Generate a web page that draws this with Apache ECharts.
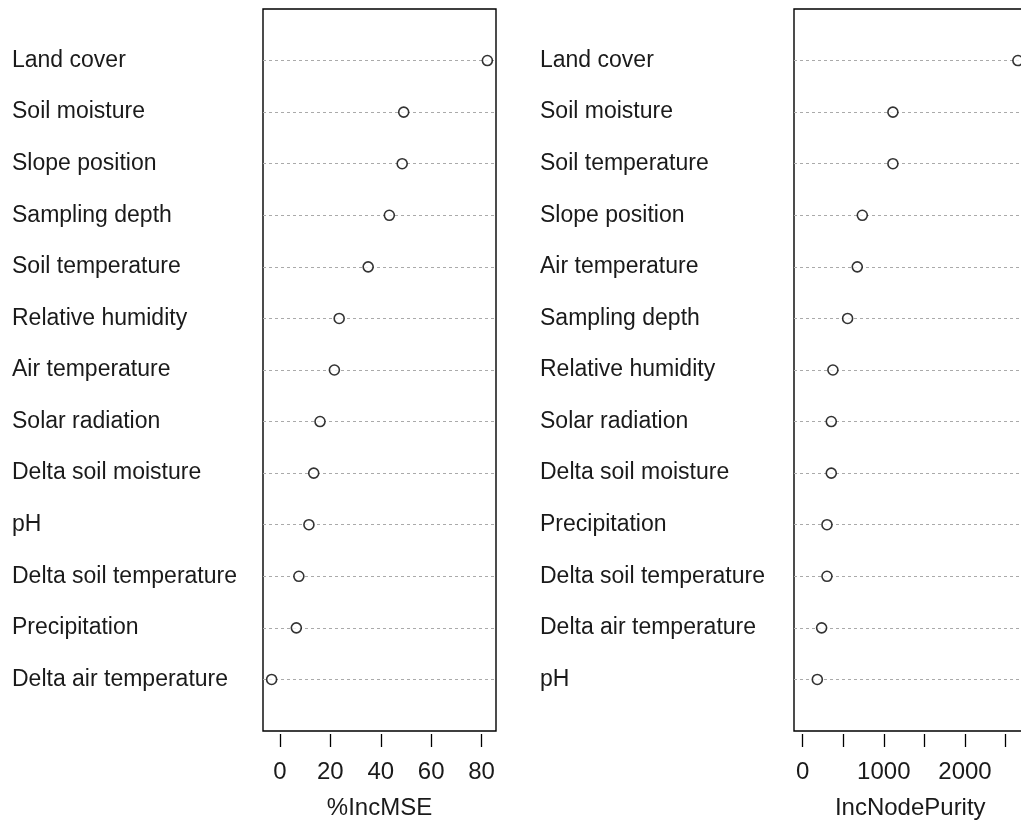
<!DOCTYPE html>
<html>
<head>
<meta charset="utf-8">
<script src="https://cdn.jsdelivr.net/npm/echarts@6/dist/echarts.min.js"></script>
<style>
html,body{margin:0;padding:0;background:#fff;}
#chart{width:1021px;height:821px;}
</style>
</head>
<body>
<div id="chart"></div>
<script>
// Left panel (%IncMSE), listed top to bottom
const leftLabels = ["Land cover","Soil moisture","Slope position","Sampling depth","Soil temperature","Relative humidity","Air temperature","Solar radiation","Delta soil moisture","pH","Delta soil temperature","Precipitation","Delta air temperature"];
const leftValues = [82.3, 49.1, 48.5, 43.4, 35.0, 23.5, 21.6, 15.9, 13.4, 11.5, 7.5, 6.5, -3.3];
const leftTicks = [0, 20, 40, 60, 80];
const leftTickLabels = [0, 20, 40, 60, 80];
const leftName = "%IncMSE";

// Right panel (IncNodePurity), listed top to bottom
const rightLabels = ["Land cover","Soil moisture","Soil temperature","Slope position","Air temperature","Sampling depth","Relative humidity","Solar radiation","Delta soil moisture","Precipitation","Delta soil temperature","Delta air temperature","pH"];
const rightValues = [2651, 1112, 1112, 735, 673, 554, 373, 353, 353, 300, 300, 234, 181];
const rightTicks = [0, 500, 1000, 1500, 2000, 2500];
const rightTickLabels = [0, 1000, 2000];
const rightName = "IncNodePurity";

const FONT = "'Liberation Sans', Arial, sans-serif";
const TXT = "#1a1a1a";

function catData(labels) {
  return [''].concat(labels.slice().reverse()).concat(['']);
}
// R-style range: 4% extension on each side
function rangeOf(vals, forceZero) {
  let lo = Math.min.apply(null, vals), hi = Math.max.apply(null, vals);
  if (forceZero) lo = 0;
  const ext = (hi - lo) * 0.04;
  return [lo - ext, hi + ext];
}

const lr = rangeOf(leftValues, false);
const rr = rangeOf(rightValues, true);

function yAxisFor(gridIndex, labels, margin) {
  return {
    type: 'category', gridIndex: gridIndex, boundaryGap: false,
    data: catData(labels),
    axisLine: {show: false}, axisTick: {show: false},
    axisLabel: {interval: 0, align: 'left', margin: margin, fontSize: 23, fontFamily: FONT, color: TXT, padding: [0,0,3,0]},
    splitLine: {show: true, interval: function (i, v) { return v !== ''; },
      lineStyle: {color: '#aaaaaa', type: [3, 3], width: 1}}
  };
}
function xAxisFor(gridIndex, range, ticks, tickLabels, name) {
  return {
    type: 'value', gridIndex: gridIndex, min: range[0], max: range[1],
    offset: 3,
    name: name, nameLocation: 'middle', nameGap: 62,
    nameTextStyle: {fontSize: 24, fontFamily: FONT, color: TXT},
    axisLine: {show: false},
    axisTick: {show: true, length: 13, customValues: ticks, lineStyle: {color: '#000', width: 1.3}},
    axisLabel: {customValues: tickLabels, fontSize: 24, fontFamily: FONT, color: TXT, margin: 26,
      formatter: function (v) { return String(v); }},
    splitLine: {show: false}
  };
}
function seriesFor(idx, labels, values) {
  return {
    type: 'scatter', xAxisIndex: idx, yAxisIndex: idx, clip: false,
    symbol: 'circle', symbolSize: 10,
    itemStyle: {color: '#fff', borderColor: '#000', borderWidth: 1.6},
    data: values.map(function (v, i) { return [v, labels[i]]; }),
    z: 5
  };
}

const chart = echarts.init(document.getElementById('chart'), null, {renderer: 'canvas'});
chart.setOption({
  backgroundColor: '#fff',
  animation: false,
  grid: [
    {left: 263, top: 9, width: 233, height: 722, show: true, borderColor: '#000', borderWidth: 1.4, backgroundColor: 'transparent', containLabel: false, outerBoundsMode: 'none'},
    {left: 794, top: 9, width: 232.5, height: 722, show: true, borderColor: '#000', borderWidth: 1.4, backgroundColor: 'transparent', containLabel: false, outerBoundsMode: 'none'}
  ],
  xAxis: [
    xAxisFor(0, lr, leftTicks, leftTickLabels, leftName),
    xAxisFor(1, rr, rightTicks, rightTickLabels, rightName)
  ],
  yAxis: [
    yAxisFor(0, leftLabels, 251),
    yAxisFor(1, rightLabels, 254)
  ],
  series: [
    seriesFor(0, leftLabels, leftValues),
    seriesFor(1, rightLabels, rightValues)
  ]
});
</script>
</body>
</html>
